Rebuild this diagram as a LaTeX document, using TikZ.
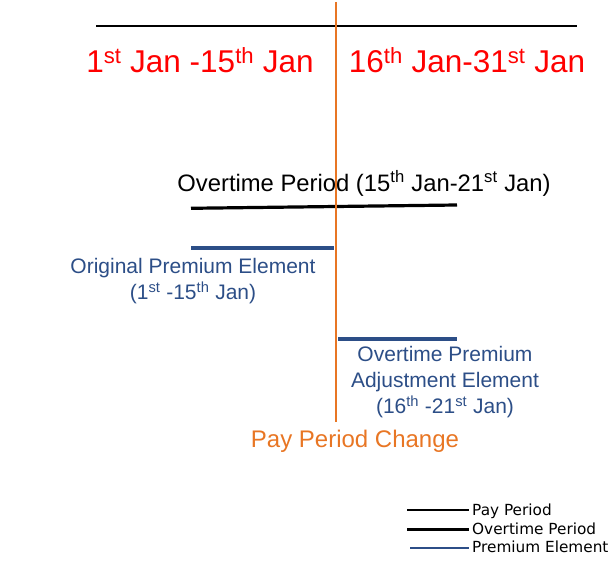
\documentclass[tikz,border=0pt]{standalone}
\usepackage{fontspec}
\setmainfont{Liberation Sans}
\newfontfamily\legendfont{DejaVu Sans}
\definecolor{ppred}{RGB}{255,0,0}
\definecolor{pporange}{RGB}{232,118,36}
\definecolor{ppblue}{RGB}{44,78,135}
\tikzset{
  payline/.style={draw=black,line width=1.7pt},
  otline/.style={draw=black,line width=3.2pt},
  premline/.style={draw=ppblue,line width=3.2pt},
  changeline/.style={draw=pporange,line width=1.8pt},
  datetext/.style={text=ppred,font=\fontsize{31.5}{36}\selectfont,anchor=base,inner sep=0pt},
  ottext/.style={text=black,font=\fontsize{23.8}{26}\selectfont,anchor=base,inner sep=0pt},
  premtext/.style={text=ppblue,font=\fontsize{21}{26}\selectfont,align=center,anchor=base,inner sep=0pt},
  changetext/.style={text=pporange,font=\fontsize{24}{26}\selectfont,anchor=base,inner sep=0pt},
  legtext/.style={text=black,font=\legendfont\fontsize{15.3}{16}\selectfont,anchor=base west,inner sep=0pt},
}
\newcommand{\sps}[1]{\textsuperscript{#1}}
\begin{document}
\begin{tikzpicture}[x=1pt,y=-1pt]
\useasboundingbox (0,0) rectangle (611,585);
% pay period line
\coordinate (payL) at (96,26);
\coordinate (payR) at (577,26);
\draw[payline] (payL) -- (payR);
% dates
\node[datetext] (d1) at (200,73) {1\sps{st} Jan -15\sps{th} Jan};
\node[datetext] (d2) at (467,73) {16\sps{th} Jan-31\sps{st} Jan};
% overtime period
\node[ottext] (ot) at (364,192) {Overtime Period (15\sps{th} Jan-21\sps{st} Jan)};
\coordinate (otL) at (191,208.3);
\coordinate (otR) at (457,205);
\draw[otline] (otL) -- (otR);
% original premium
\coordinate (p1L) at (191,248);
\coordinate (p1R) at (334,248);
\draw[premline] (p1L) -- (p1R);
\node[premtext] (p1t) at (193,300) {Original Premium Element\\(1\sps{st} -15\sps{th} Jan)};
% overtime premium adjustment
\coordinate (p2L) at (338,339);
\coordinate (p2R) at (457,339);
\draw[premline] (p2L) -- (p2R);
\node[premtext] (p2t) at (445,414) {Overtime Premium\\Adjustment Element\\(16\sps{th} -21\sps{st} Jan)};
% pay period change
\coordinate (chT) at (336,2);
\coordinate (chB) at (336,422);
\draw[changeline] (chT) -- (chB);
\node[changetext] (cht) at (355,448) {Pay Period Change};
% legend
\coordinate (l1a) at (407,510); \coordinate (l1b) at (469,510);
\coordinate (l2a) at (407,529.5); \coordinate (l2b) at (469,529.5);
\coordinate (l3a) at (410,548); \coordinate (l3b) at (469,548);
\draw[draw=black,line width=1.4pt] (l1a) -- (l1b);
\draw[draw=black,line width=2.4pt] (l2a) -- (l2b);
\draw[draw=ppblue,line width=2.4pt] (l3a) -- (l3b);
\node[legtext] (lt1) at (472,515) {Pay Period};
\node[legtext] (lt2) at (472,534) {Overtime Period};
\node[legtext] (lt3) at (472,552.5) {Premium Element};
\end{tikzpicture}
\end{document}
